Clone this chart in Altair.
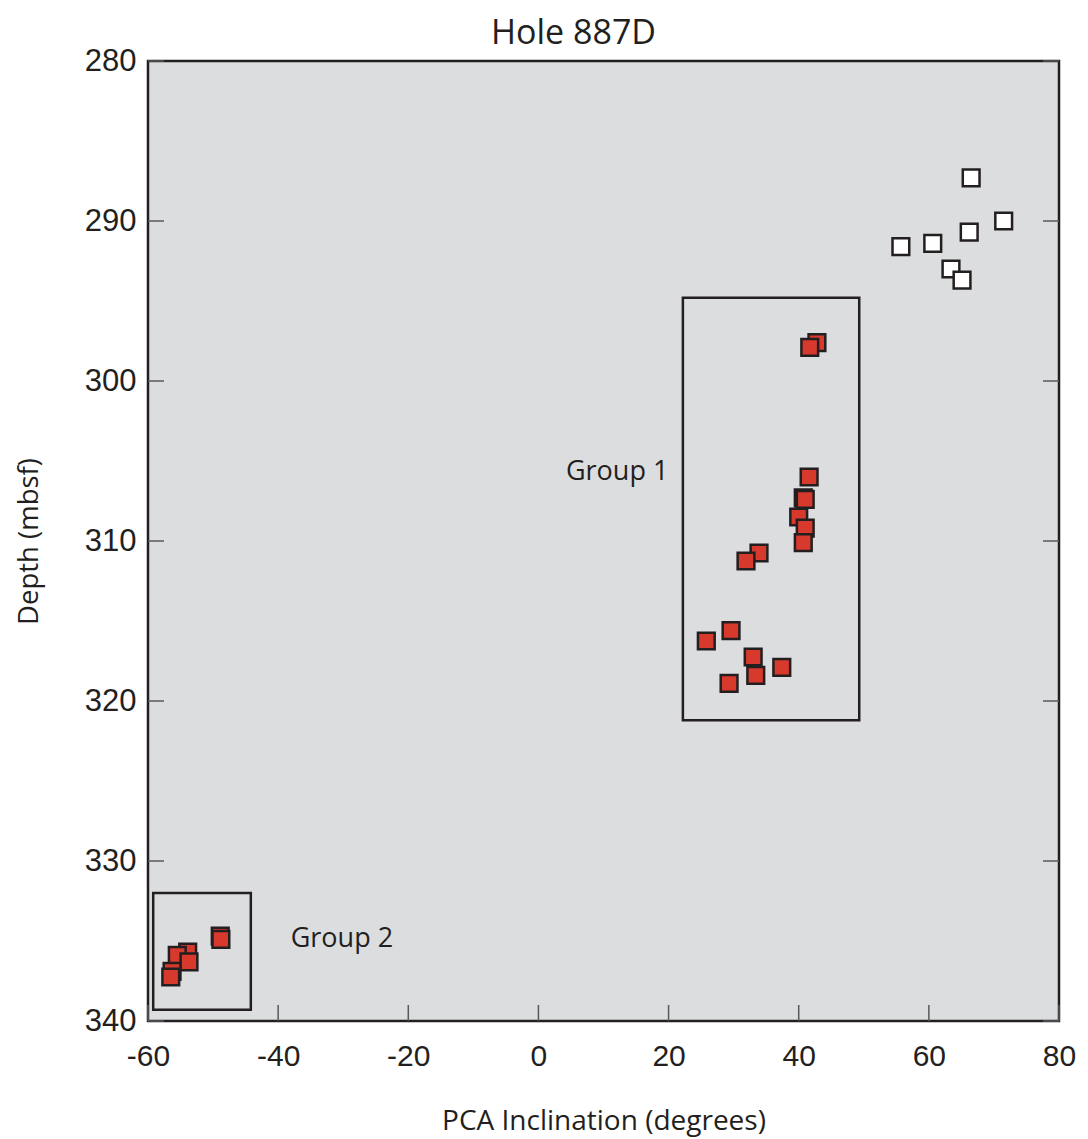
import altair as alt
import pandas as pd

# Data
white_x = [66.5, 71.5, 66.2, 55.7, 60.6, 63.4, 65.1]
white_d = [287.3, 290.0, 290.7, 291.6, 291.4, 293.0, 293.7]

red_x = [42.8, 41.7, 41.6, 40.7, 41.0, 40.0, 41.0, 40.7, 33.9, 31.9,
         29.6, 25.8, 33.0, 37.4, 33.4, 29.3,
         -48.9, -48.8, -53.9, -55.5, -53.7, -56.3, -56.5]
red_d = [297.6, 297.9, 306.0, 307.3, 307.4, 308.5, 309.2, 310.1, 310.75, 311.25,
         315.6, 316.25, 317.25, 317.9, 318.4, 318.9,
         334.7, 334.9, 335.7, 335.9, 336.3, 336.9, 337.25]

box_x1 = [22.2, -59.2]
box_x2 = [49.3, -44.2]
box_d1 = [294.8, 332.0]
box_d2 = [321.2, 339.3]

label_text = ["Group 1", "Group 2"]
label_x = [12.1, -30.2]
label_d = [305.7, 334.9]

title_text = ["Hole 887D"]

x_ticks = [-60, -40, -20, 0, 20, 40, 60, 80]
y_ticks = [280, 290, 300, 310, 320, 330, 340]

W, H = 911, 960
INK = "#231f20"
TICK = "#58585a"
SANS = "Liberation Sans"
HUM = "Open Sans"

xs = alt.Scale(domain=[-60, 80], nice=False, zero=False)
ys = alt.Scale(domain=[280, 340], nice=False, zero=False, reverse=True)

white_df = pd.DataFrame({"x": white_x, "d": white_d})
red_df = pd.DataFrame({"x": red_x, "d": red_d})
box_df = pd.DataFrame({"x1": box_x1, "x2": box_x2, "d1": box_d1, "d2": box_d2})
lab_df = pd.DataFrame({"t": label_text, "x": label_x, "d": label_d})
title_df = pd.DataFrame({"t": title_text})
xt_df = pd.DataFrame({"v": x_ticks})
yt_df = pd.DataFrame({"v": y_ticks})

xaxis = alt.Axis(title="PCA Inclination (degrees)", values=x_ticks, ticks=False, domain=False,
                 grid=False, labelFont=SANS, labelFontSize=30, labelColor=INK, labelPadding=20,
                 labelExpr="toString(datum.value)",
                 titleFont=HUM, titleFontSize=28, titleFontWeight="normal", titleColor=INK,
                 titlePadding=36, labelFlush=False)
yaxis = alt.Axis(title="Depth (mbsf)", values=y_ticks, ticks=False, domain=False,
                 grid=False, labelFont=SANS, labelFontSize=31, labelColor=INK, labelPadding=12,
                 labelExpr="toString(datum.value)",
                 titleFont=HUM, titleFontSize=27.5, titleFontWeight="normal", titleColor=INK,
                 titlePadding=41, labelFlush=False)

boxes = alt.Chart(box_df).mark_rect(fill=None, fillOpacity=0, stroke=INK, strokeWidth=2.5).encode(
    x=alt.X("x1:Q", scale=xs, axis=xaxis), x2="x2:Q",
    y=alt.Y("d1:Q", scale=ys, axis=yaxis), y2="d2:Q")

whites = alt.Chart(white_df).mark_point(shape="square", filled=True, fill="white", stroke=INK,
                                        strokeWidth=2.5, size=280, opacity=1).encode(
    x=alt.X("x:Q", scale=xs), y=alt.Y("d:Q", scale=ys))

reds = alt.Chart(red_df).mark_point(shape="square", filled=True, fill="#d7392c", stroke=INK,
                                    strokeWidth=2.5, size=280, opacity=1).encode(
    x=alt.X("x:Q", scale=xs), y=alt.Y("d:Q", scale=ys))

labels = alt.Chart(lab_df).mark_text(font=HUM, fontSize=27, color=INK, align="center",
                                     baseline="middle").encode(
    x=alt.X("x:Q", scale=xs), y=alt.Y("d:Q", scale=ys), text="t:N")

title_mark = alt.Chart(title_df).mark_text(font=HUM, fontSize=34, color=INK, align="center",
                                           baseline="alphabetic").encode(
    x=alt.value(W / 2 - 30), y=alt.value(-17), text="t:N")

bottom_ticks = alt.Chart(xt_df).mark_rule(color=TICK, strokeWidth=1.5).encode(
    x=alt.X("v:Q", scale=xs), y=alt.value(H - 16), y2=alt.value(H))
left_ticks = alt.Chart(yt_df).mark_rule(color=TICK, strokeWidth=1.5).encode(
    y=alt.Y("v:Q", scale=ys), x=alt.value(0), x2=alt.value(16))
right_ticks = alt.Chart(yt_df).mark_rule(color=TICK, strokeWidth=1.5).encode(
    y=alt.Y("v:Q", scale=ys), x=alt.value(W - 16), x2=alt.value(W))

chart = alt.layer(bottom_ticks, left_ticks, right_ticks, boxes, whites, reds, labels,
                  title_mark).properties(
    width=W, height=H,
    background="white",
    autosize=alt.AutoSizeParams(type="none"),
    padding={"left": 140, "top": 53, "right": 21, "bottom": 125},
).configure_view(fill="#dcdddf", stroke=INK, strokeWidth=2.5)

chart.save("out.html", embed_options={"renderer": "svg", "actions": False})
